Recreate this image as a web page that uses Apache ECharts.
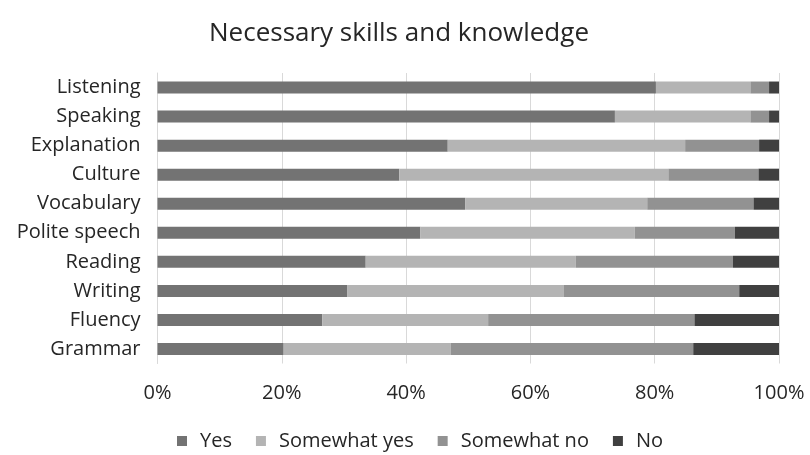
<!DOCTYPE html>
<html><head><meta charset="utf-8">
<script src="https://cdn.jsdelivr.net/npm/echarts@6/dist/echarts.min.js"></script>
<style>html,body{margin:0;padding:0;background:#fff}#c{width:810px;height:455px}</style>
</head><body><div id="c"></div>
<script>
const categories = ["Listening","Speaking","Explanation","Culture","Vocabulary","Polite speech","Reading","Writing","Fluency","Grammar"];
const yes =          [80.2, 73.6, 46.7, 38.9, 49.5, 42.3, 33.5, 30.5, 26.5, 20.3];
const somewhatYes =  [15.2, 21.8, 38.2, 43.3, 29.3, 34.5, 33.8, 34.9, 26.7, 26.9];
const somewhatNo =   [ 3.0,  3.0, 11.9, 14.5, 17.1, 16.1, 25.3, 28.2, 33.2, 39.0];
const no =           [ 1.6,  1.6,  3.2,  3.3,  4.1,  7.1,  7.4,  6.4, 13.6, 13.8];
const tickLabels = ["0%","20%","40%","60%","80%","100%"];

const font = "'Open Sans', 'Liberation Sans', sans-serif";
const chart = echarts.init(document.getElementById('c'));
const mk = (name, data, color) => ({
  name, type: 'bar', stack: 'a', data, barWidth: 12,
  itemStyle: { color }, emphasis: { disabled: true }
});
chart.setOption({
  animation: false,
  title: { text: 'Necessary skills and knowledge', left: 394, textAlign: 'center', top: 16,
    textStyle: { fontFamily: font, fontSize: 26, fontWeight: 'normal', color: '#262626' } },
  legend: { top: 426, left: 172, itemWidth: 10, itemHeight: 10, itemGap: 24,
    icon: 'rect', textStyle: { fontFamily: font, fontSize: 20, color: '#262626', padding: [0, 0, 0, 8] } },
  grid: { left: 157.5, right: 31, top: 73, bottom: 91.5, containLabel: false },
  xAxis: { type: 'value', min: 0, max: 100, interval: 20,
    axisLine: { show: false }, axisTick: { show: false },
    splitLine: { lineStyle: { color: '#d9d9d9', width: 1 } },
    axisLabel: { fontFamily: font, fontSize: 20, color: '#262626', margin: 20,
      formatter: (v) => tickLabels[Math.round(v / 20)] } },
  yAxis: { type: 'category', data: categories, inverse: true,
    axisLine: { show: true, lineStyle: { color: '#d9d9d9' } }, axisTick: { show: false },
    axisLabel: { fontFamily: font, fontSize: 20, color: '#262626', margin: 17 } },
  series: [
    mk('Yes', yes, '#737373'),
    mk('Somewhat yes', somewhatYes, '#b4b4b4'),
    mk('Somewhat no', somewhatNo, '#929292'),
    mk('No', no, '#404040')
  ]
});
</script></body></html>
